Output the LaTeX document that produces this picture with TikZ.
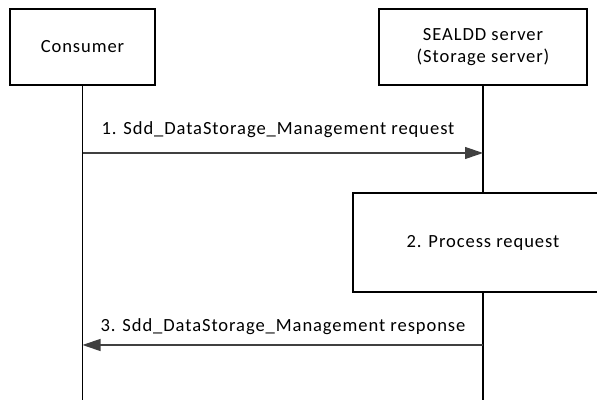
\documentclass[tikz,border=0pt]{standalone}
\usepackage{fontspec}
\setmainfont{Carlito}[LetterSpace=5]
\usetikzlibrary{arrows.meta}

\tikzset{
    entity/.style={draw, thick, minimum width=#1, minimum height=1.9cm, align=center, font=\fontsize{13.2}{16}\selectfont},
    msg/.style={draw=black!75, thick, -{Triangle[length=0.45cm, width=0.3cm]}},
    msglabel/.style={font=\fontsize{13.2}{16}\selectfont}
}

\begin{document}
\begin{tikzpicture}
        \useasboundingbox (0, 0) rectangle (14.925, 10);
        \clip (0, 0) rectangle (14.925, 10);
        \node[entity=3.625cm] (consumer) at (2.0625, 8.825) {Consumer};
        \node[entity=5.2cm] (server) at (12.075, 8.825) {SEALDD server\\(Storage server)};
        \coordinate (consumerEnd) at (consumer.south |- 0, 0);
        \coordinate (serverEnd) at (server.south |- 0, 0);
        \draw[thick] (consumer) -- (consumerEnd);
        \draw[thick] (server) -- (serverEnd);
        \node[draw, thick, fill=white, minimum width=6.5cm, minimum height=2.475cm, font=\fontsize{13.2}{16}\selectfont] (process) at (12.075, 3.9375) {2. Process request};
        \coordinate (req1) at (consumer.south |- 0, 6.175);
        \coordinate (req2) at (server.south |- 0, 6.175);
        \draw[msg] (req1) -- (req2);
        \node[msglabel] (reqLabel) at (6.95, 6.75) {1. Sdd\_DataStorage\_Management request};
        \coordinate (resp1) at (server.south |- 0, 1.375);
        \coordinate (resp2) at (consumer.south |- 0, 1.375);
        \draw[msg] (resp1) -- (resp2);
        \node[msglabel] (respLabel) at (7.075, 1.825) {3. Sdd\_DataStorage\_Management response};
    \end{tikzpicture}
\end{document}
